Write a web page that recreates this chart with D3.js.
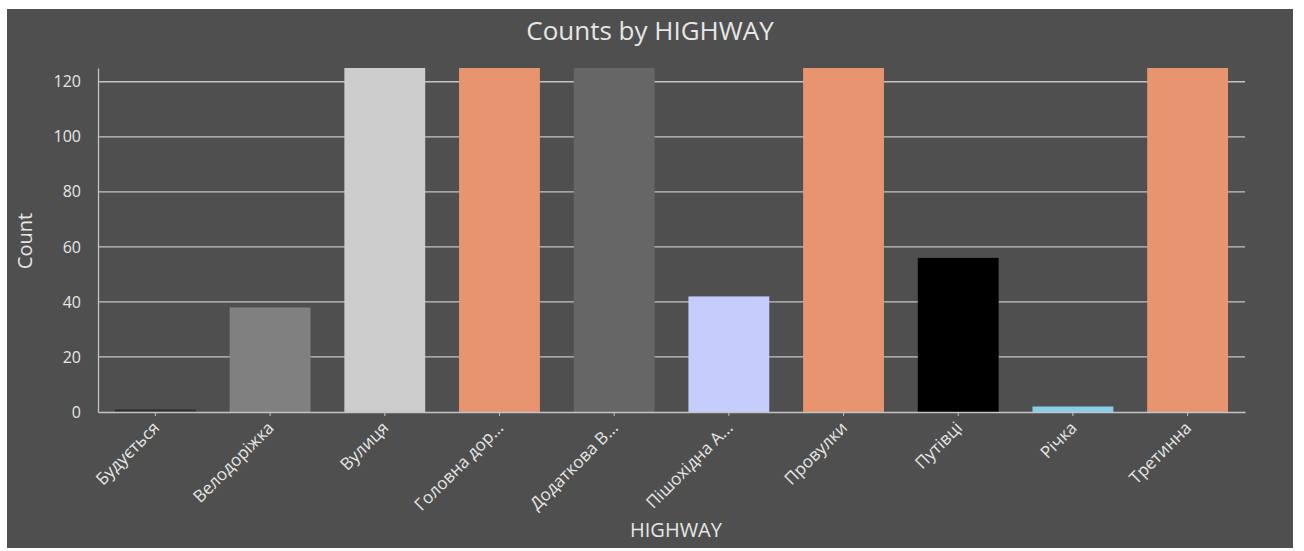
<!DOCTYPE html>
<html>
<head>
<meta charset="utf-8">
<script src="https://cdn.jsdelivr.net/npm/d3@7"></script>
<style>
  html, body { margin: 0; padding: 0; background: #ffffff; }
  svg { display: block; }
  text { font-family: "Open Sans", "Noto Sans", sans-serif; }
</style>
</head>
<body>
<svg id="chart" width="1304" height="551"></svg>
<script>
// Road categories and their counts
const categories = ["Будується", "Велодоріжка", "Вулиця", "Головна дор...", "Додаткова В...",
                    "Пішохідна А...", "Провулки", "Путівці", "Річка", "Третинна"];
const counts = [1, 38, 125, 125, 125, 42, 125, 56, 2, 125];
const barColors = ["#333333", "#808080", "#cccccc", "#e8956f", "#666666",
                   "#c5cdfd", "#e8956f", "#000000", "#87ceeb", "#e8956f"];
const yTicks = [0, 20, 40, 60, 80, 100, 120];

const svg = d3.select("#chart");

// dark panel behind the chart
svg.append("rect")
  .attr("x", 7).attr("y", 9)
  .attr("width", 1286).attr("height", 539)
  .attr("fill", "#4f4f4f");

const margin = { left: 98, right: 1245, top: 68, bottom: 412 };

const x = d3.scaleBand()
  .domain(categories)
  .range([margin.left, margin.right])
  .paddingInner(0.295)
  .paddingOuter(0.148);

const y = d3.scaleLinear()
  .domain([0, 125])
  .range([margin.bottom, margin.top]);

// horizontal gridlines
svg.append("g")
  .selectAll("line")
  .data(yTicks.filter(d => d > 0))
  .join("line")
  .attr("x1", margin.left).attr("x2", margin.right)
  .attr("y1", d => y(d)).attr("y2", d => y(d))
  .attr("stroke", "#c4c4c4")
  .attr("stroke-width", 1.3);

// bars
svg.append("g")
  .selectAll("rect")
  .data(categories)
  .join("rect")
  .attr("x", d => x(d))
  .attr("width", x.bandwidth())
  .attr("y", (d, i) => y(counts[i]))
  .attr("height", (d, i) => y(0) - y(counts[i]))
  .attr("fill", (d, i) => barColors[i]);

// y axis
const yAxis = svg.append("g")
  .attr("transform", `translate(${margin.left},0)`)
  .call(d3.axisLeft(y).tickValues(yTicks).tickSize(0).tickPadding(17));
yAxis.select(".domain").attr("stroke", "#c4c4c4").attr("stroke-width", 1.3);
yAxis.selectAll("text")
  .attr("fill", "#e6e6e6")
  .style("font-size", "16px");

// x axis
const xAxis = svg.append("g")
  .attr("transform", `translate(0,${margin.bottom})`)
  .call(d3.axisBottom(x).tickSize(4).tickSizeOuter(0));
xAxis.select(".domain").attr("stroke", "#c4c4c4").attr("stroke-width", 1.3);
xAxis.selectAll(".tick line").attr("stroke", "#c4c4c4");
xAxis.selectAll("text")
  .attr("fill", "#e6e6e6")
  .style("font-size", "17px")
  .attr("text-anchor", "end")
  .attr("dx", "0")
  .attr("dy", "0")
  .attr("transform", "translate(0,12) rotate(-45)");

// titles
svg.append("text")
  .attr("x", 650).attr("y", 40)
  .attr("text-anchor", "middle")
  .attr("fill", "#e6e6e6")
  .style("font-size", "26px")
  .text("Counts by HIGHWAY");

svg.append("text")
  .attr("transform", "translate(32,241) rotate(-90)")
  .attr("text-anchor", "middle")
  .attr("fill", "#e6e6e6")
  .style("font-size", "20px")
  .text("Count");

svg.append("text")
  .attr("x", 676).attr("y", 537)
  .attr("text-anchor", "middle")
  .attr("fill", "#e6e6e6")
  .style("font-size", "20px")
  .text("HIGHWAY");
</script>
</body>
</html>
